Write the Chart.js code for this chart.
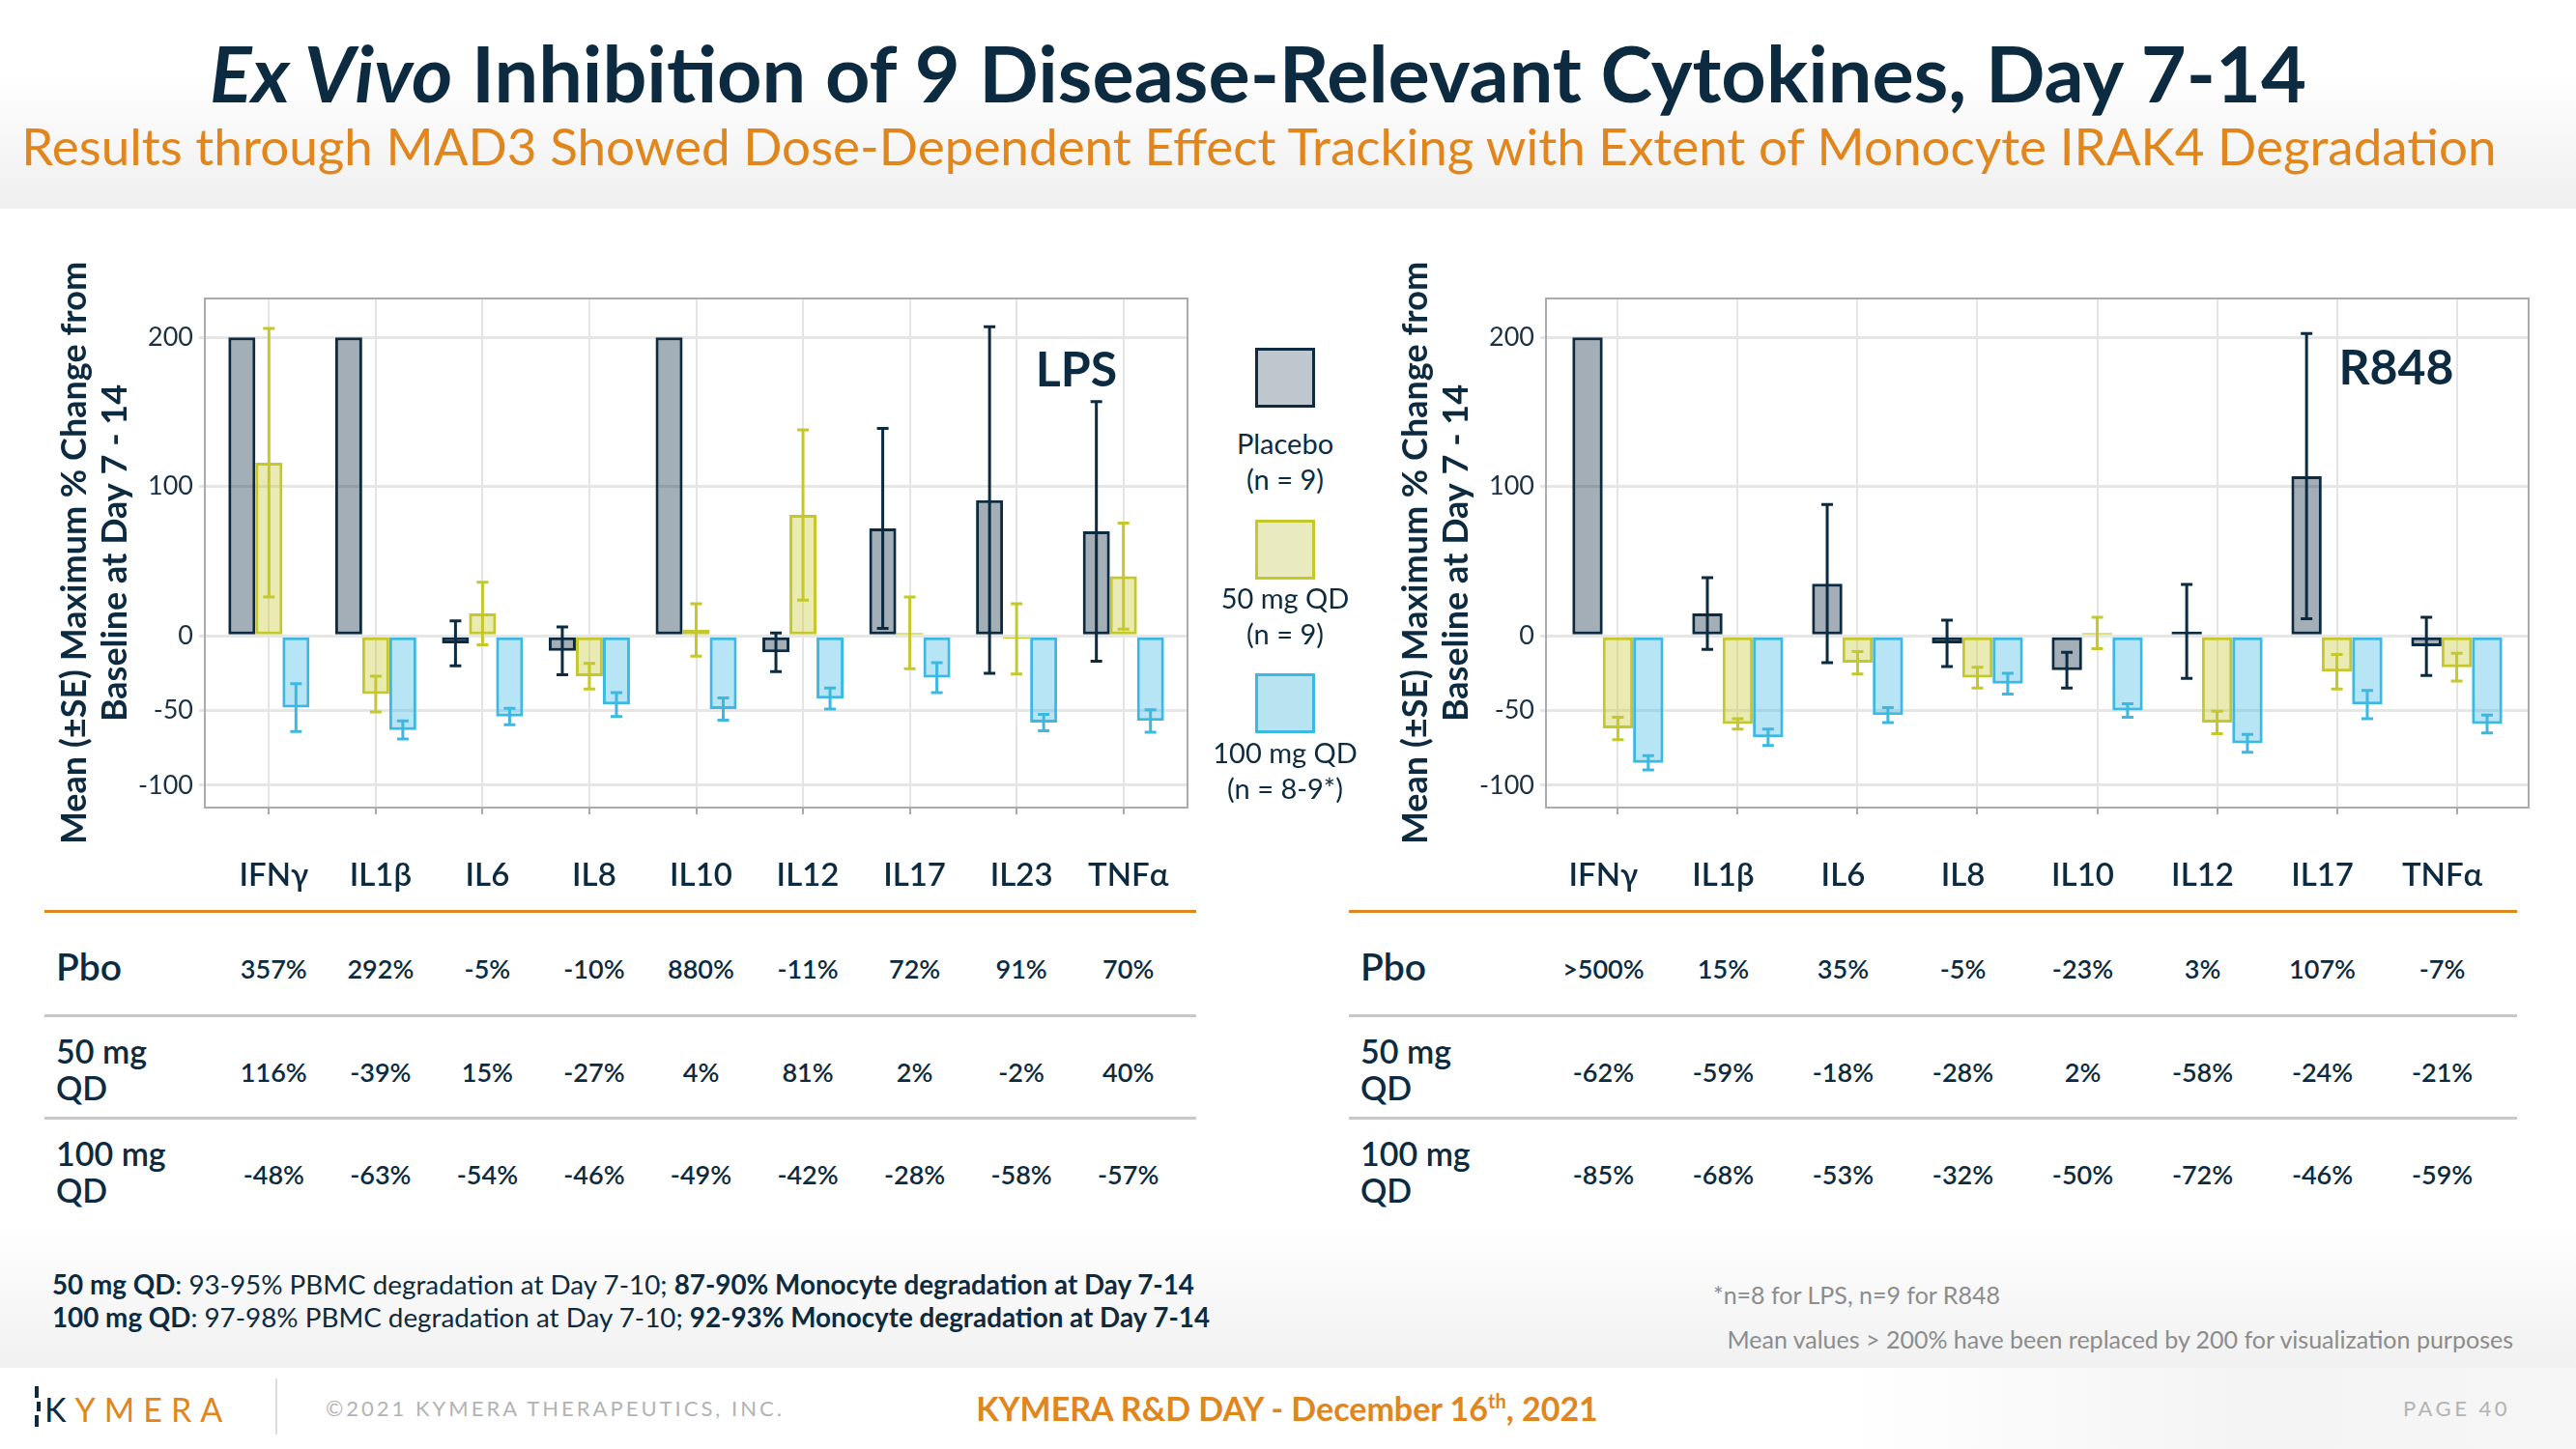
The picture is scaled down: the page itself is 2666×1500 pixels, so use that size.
<!DOCTYPE html>
<html lang="en">
<head>
<meta charset="UTF-8">
<title>Ex Vivo Inhibition of 9 Disease-Relevant Cytokines</title>
<script src="https://cdn.jsdelivr.net/npm/chart.js@4.4.1/dist/chart.umd.min.js"></script>
<style>
  body { margin: 0; width: 2666px; height: 1500px; position: relative; overflow: hidden; background: #fff; font-family: Lato, sans-serif; color: #0d2b40; }
  .abs { position: absolute; white-space: nowrap; }
  .c { transform: translate(-50%, -50%); text-align: center; }
  .head { left: 0; top: 0; width: 2666px; height: 216px; background: linear-gradient(to bottom, #fff 0%, #fff 35%, #efefef 100%); }
  .notes { left: 0; top: 1265px; width: 2666px; height: 151px; background: linear-gradient(to bottom, #fff 0%, #f1f1f1 100%); }
  .foot { left: 1904px; top: 1416px; width: 762px; height: 84px; background: linear-gradient(to right, #fff 0%, #f4f4f4 55%, #f6f6f6 100%); }
  canvas { position: absolute; }
  .rowlab { font-size: 34px; font-weight: 600; line-height: 38px; }
  .val { font-size: 27px; font-weight: 600; }
  .hline { position: absolute; height: 3px; }
  .leg { font-size: 29px; line-height: 37px; }
  .sw { position: absolute; width: 56px; height: 56px; border: 3px solid; }
</style>
</head>
<body>
<div class="abs head"></div>
<div class="abs notes"></div>
<div class="abs foot"></div>

<div class="abs c" style="left:1302px; top:74px; font-size:81px; font-weight:700;"><i>Ex Vivo</i> Inhibition of 9 Disease-Relevant Cytokines, Day 7-14</div>
<div class="abs c" style="left:1303px; top:150px; font-size:53px; color:#e0861c;">Results through MAD3 Showed Dose-Dependent Effect Tracking with Extent of Monocyte IRAK4 Degradation</div>

<canvas id="lpsChart" width="1262" height="700" style="left:0; top:260px;"></canvas>
<canvas id="r848Chart" width="1262" height="700" style="left:1388px; top:260px;"></canvas>

<div class="abs c" style="left:1114px; top:381px; font-size:50px; font-weight:700;">LPS</div>
<div class="abs c" style="left:2480px; top:379px; font-size:50px; font-weight:700;">R848</div>

<div id="legend"></div>
<div id="tables"></div>

<div class="abs" style="left:54px; top:1313px; font-size:27.8px;"><b>50 mg QD</b>: 93-95% PBMC degradation at Day 7-10; <b>87-90% Monocyte degradation at Day 7-14</b></div>
<div class="abs" style="left:54px; top:1347px; font-size:27.8px;"><b>100 mg QD</b>: 97-98% PBMC degradation at Day 7-10; <b>92-93% Monocyte degradation at Day 7-14</b></div>
<div class="abs" style="left:1773px; top:1325px; font-size:25px; color:#8c8c8c;">*n=8 for LPS, n=9 for R848</div>
<div class="abs" style="right:65px; top:1371px; font-size:25px; color:#8c8c8c;">Mean values &gt; 200% have been replaced by 200 for visualization purposes</div>

<div class="abs" style="left:36px; top:1435px; width:4px; height:12px; background:#0d2b40;"></div>
<div class="abs" style="left:38px; top:1451px; width:4px; height:10px; background:#0d2b40;"></div>
<div class="abs" style="left:36px; top:1465px; width:4px; height:12px; background:#0d2b40;"></div>
<div class="abs" style="left:46px; top:1438px; font-size:34px; letter-spacing:9px; color:#e0861c;"><span style="color:#0d2b40;">K</span>YMERA</div>
<div class="abs" style="left:285px; top:1427px; width:2px; height:58px; background:#dcdcdc;"></div>
<div class="abs" style="left:337px; top:1444px; font-size:22px; letter-spacing:3px; color:#b3b3b3;">©2021 KYMERA THERAPEUTICS, INC.</div>
<div class="abs c" style="left:1332px; top:1457px; font-size:34px; font-weight:700; color:#e0861c;">KYMERA R&amp;D DAY - December 16<sup style="font-size:20px;">th</sup>, 2021</div>
<div class="abs" style="right:68px; top:1444px; font-size:22px; letter-spacing:3.5px; color:#b3b3b3;">PAGE 40</div>

<script>
// ---- data ----
var lpsCats = ['IFNγ', 'IL1β', 'IL6', 'IL8', 'IL10', 'IL12', 'IL17', 'IL23', 'TNFα'];
var lpsPlacebo = [200, 200, -5, -10, 200, -11, 72, 91, 70];
var lpsPlaceboSE = [null, null, 15, 16, null, 13, 67, 116, 87];
var lps50 = [116, -39, 15, -27, 4, 81, 2, -2, 40];
var lps50SE = [90, 12, 21, 8.5, 17.5, 57, 24, 23.5, 35.5];
var lps100 = [-48, -63, -54, -46, -49, -42, -28, -58, -57];
var lps100SE = [16, 6, 5.5, 8, 7.5, 7, 10, 5.5, 7.5];

var r848Cats = ['IFNγ', 'IL1β', 'IL6', 'IL8', 'IL10', 'IL12', 'IL17', 'TNFα'];
var r848Placebo = [200, 15, 35, -5, -23, 3, 107, -7];
var r848PlaceboSE = [null, 24, 53, 15.5, 12, 31.5, 95.5, 19.5];
var r848_50 = [-62, -59, -18, -28, 2, -58, -24, -21];
var r848_50SE = [7.5, 3.5, 7.5, 7, 10.5, 7.5, 11.5, 9.3];
var r848_100 = [-85, -68, -53, -32, -50, -72, -46, -59];
var r848_100SE = [4.8, 5.5, 5, 7, 4.5, 6, 9.5, 6];

var yTicks = [200, 100, 0, -50, -100];

var rowLabels = [['Pbo'], ['50 mg', 'QD'], ['100 mg', 'QD']];
var lpsTable = [
  ['357%', '292%', '-5%', '-10%', '880%', '-11%', '72%', '91%', '70%'],
  ['116%', '-39%', '15%', '-27%', '4%', '81%', '2%', '-2%', '40%'],
  ['-48%', '-63%', '-54%', '-46%', '-49%', '-42%', '-28%', '-58%', '-57%']
];
var r848Table = [
  ['>500%', '15%', '35%', '-5%', '-23%', '3%', '107%', '-7%'],
  ['-62%', '-59%', '-18%', '-28%', '2%', '-58%', '-24%', '-21%'],
  ['-85%', '-68%', '-53%', '-32%', '-50%', '-72%', '-46%', '-59%']
];

var groups = ['Placebo', '50 mg QD', '100 mg QD'];
var groupN = ['(n = 9)', '(n = 9)', '(n = 8-9*)'];

var navy = '#0d2b40';
var lineCols = ['#0d2b40', '#c4c82a', '#3db8e3'];
var fillCols = ['rgba(13,43,64,0.38)', 'rgba(196,200,42,0.36)', 'rgba(61,184,227,0.37)'];
var legFill = ['#bec6ce', '#e9eac0', '#b8e3f1'];

Chart.defaults.font.family = 'Lato';
Chart.defaults.color = navy;

// whiskers from the se arrays
var errorBars = {
  id: 'errorBars',
  afterDatasetsDraw: function (chart) {
    var ctx = chart.ctx, y = chart.scales.y;
    chart.data.datasets.forEach(function (ds, di) {
      chart.getDatasetMeta(di).data.forEach(function (bar, i) {
        var se = ds.se[i];
        if (se == null) return;
        var v = ds.data[i].y;
        var t = y.getPixelForValue(v + se), b = y.getPixelForValue(v - se);
        ctx.save();
        ctx.strokeStyle = ds.borderColor;
        ctx.lineWidth = 3;
        ctx.beginPath();
        ctx.moveTo(bar.x, t); ctx.lineTo(bar.x, b);
        ctx.moveTo(bar.x - 6, t); ctx.lineTo(bar.x + 6, t);
        ctx.moveTo(bar.x - 6, b); ctx.lineTo(bar.x + 6, b);
        ctx.stroke();
        ctx.restore();
      });
    });
  }
};

var frame = {
  id: 'frame',
  beforeDatasetsDraw: function (chart) {
    var a = chart.chartArea, ctx = chart.ctx;
    ctx.save();
    ctx.strokeStyle = '#ababab';
    ctx.lineWidth = 2;
    ctx.strokeRect(a.left, a.top, a.right - a.left, a.bottom - a.top);
    ctx.restore();
  }
};

function makeChart(id, cats, series, ses, labelShift) {
  var datasets = series.map(function (s, k) {
    return {
      label: groups[k],
      data: s.map(function (v, i) { return { x: i, y: v }; }),
      se: ses[k],
      backgroundColor: fillCols[k],
      borderColor: lineCols[k],
      borderWidth: 3,
      borderSkipped: false,
      categoryPercentage: 0.76,
      barPercentage: 1.0
    };
  });
  return new Chart(document.getElementById(id), {
    type: 'bar',
    data: { datasets: datasets },
    plugins: [frame, errorBars],
    options: {
      responsive: false,
      animation: false,
      layout: { padding: { top: 49, right: 33, bottom: 0, left: 0 } },
      plugins: { legend: { display: false }, tooltip: { enabled: false } },
      scales: {
        x: {
          type: 'linear',
          offset: false,
          min: -0.6,
          max: cats.length - 0.4,
          afterBuildTicks: function (s) { s.ticks = cats.map(function (c, i) { return { value: i }; }); },
          afterFit: function (s) { s.height = 124; },
          grid: { offset: false, color: '#e4e4e4', lineWidth: 2, tickLength: 7, tickColor: '#a8a8a8' },
          border: { display: false },
          ticks: {
            padding: 44,
            labelOffset: labelShift,
            maxRotation: 0,
            autoSkip: false,
            font: { size: 33, weight: '600' },
            color: navy,
            callback: function (v) { return cats[v]; }
          }
        },
        y: {
          min: -115,
          max: 226,
          afterBuildTicks: function (s) { s.ticks = yTicks.map(function (v) { return { value: v }; }); },
          afterFit: function (s) { s.width = 212; },
          grid: { color: '#e6e6e6', lineWidth: 3, tickLength: 6, tickColor: '#e6e6e6' },
          border: { display: false },
          ticks: { padding: 6, font: { size: 27 }, color: '#1b3042' },
          title: {
            display: true,
            text: ['Mean (±SE) Maximum % Change from', 'Baseline at Day 7 - 14'],
            font: { size: 36, weight: 'bold', lineHeight: 1.17 },
            color: navy,
            padding: { top: 56, bottom: 0 }
          }
        }
      }
    }
  });
}

var lpsChart = makeChart('lpsChart', lpsCats, [lpsPlacebo, lps50, lps100], [lpsPlaceboSE, lps50SE, lps100SE], 5);
var r848Chart = makeChart('r848Chart', r848Cats, [r848Placebo, r848_50, r848_100], [r848PlaceboSE, r848_50SE, r848_100SE], -15);

// legend
var legHtml = '';
var swTop = [360, 538, 697];
var txTop = [440, 600, 760];
groups.forEach(function (g, k) {
  legHtml += '<div class="sw" style="left:1299px; top:' + swTop[k] + 'px; border-color:' + lineCols[k] + '; background:' + legFill[k] + ';"></div>';
  legHtml += '<div class="abs leg" style="left:1330px; top:' + txTop[k] + 'px; transform:translateX(-50%); text-align:center;">' + g + '<br>' + groupN[k] + '</div>';
});
document.getElementById('legend').innerHTML = legHtml;

// tables under each chart
function buildTable(chart, canvasLeft, rows, x0, x1, shift) {
  var h = '';
  var rowY = [1000, 1107, 1213];
  h += '<div class="hline" style="left:' + x0 + 'px; width:' + (x1 - x0) + 'px; top:942px; background:#e0861c;"></div>';
  h += '<div class="hline" style="left:' + x0 + 'px; width:' + (x1 - x0) + 'px; top:1050px; background:#c8c8c8;"></div>';
  h += '<div class="hline" style="left:' + x0 + 'px; width:' + (x1 - x0) + 'px; top:1156px; background:#c8c8c8;"></div>';
  rows.forEach(function (r, ri) {
    var fs = ri === 0 ? 'font-size:39px;' : '';
    h += '<div class="abs rowlab" style="' + fs + 'left:' + (x0 + 12) + 'px; top:' + rowY[ri] + 'px; transform:translateY(-50%);">' + rowLabels[ri].join('<br>') + '</div>';
    r.forEach(function (v, i) {
      var px = canvasLeft + chart.scales.x.getPixelForValue(i) + shift;
      h += '<div class="abs c val" style="left:' + px + 'px; top:' + (rowY[ri] + 2) + 'px;">' + v.replace('>', '&gt;') + '</div>';
    });
  });
  return h;
}
document.getElementById('tables').innerHTML =
  buildTable(lpsChart, 0, lpsTable, 46, 1238, 5) +
  buildTable(r848Chart, 1388, r848Table, 1396, 2605, -15);
</script>
</body>
</html>
